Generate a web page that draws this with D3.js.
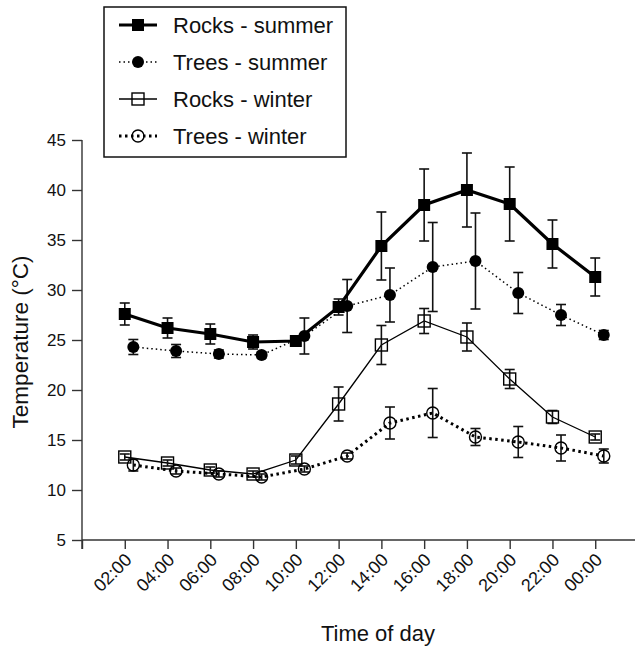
<!DOCTYPE html>
<html>
<head>
<meta charset="utf-8">
<title>Temperature by time of day</title>
<style>
  body { margin: 0; background: #fff; }
  text { font-family: "Liberation Sans", Arial, Helvetica, sans-serif; fill: #111; }
</style>
</head>
<body>
<svg width="635" height="649"></svg>
<script src="https://cdnjs.cloudflare.com/ajax/libs/d3/7.8.5/d3.min.js"></script>
<script>
// hours of day (24 = midnight) and their labels
var hours = [2, 4, 6, 8, 10, 12, 14, 16, 18, 20, 22, 24];
var hourLabels = ["02:00", "04:00", "06:00", "08:00", "10:00", "12:00", "14:00", "16:00", "18:00", "20:00", "22:00", "00:00"];
var yTicks = [5, 10, 15, 20, 25, 30, 35, 40, 45];

// means and error half-widths (°C)
var rocksSummer    = [27.6, 26.2, 25.6, 24.8, 24.9, 28.3, 34.4, 38.5, 40.0, 38.6, 34.6, 31.3];
var rocksSummerErr = [1.1, 1.0, 1.0, 0.7, 0.3, 0.8, 3.4, 3.6, 3.7, 3.7, 2.4, 1.9];
var treesSummer    = [24.3, 23.9, 23.6, 23.5, 25.4, 28.4, 29.5, 32.3, 32.9, 29.7, 27.5, 25.5];
var treesSummerErr = [0.75, 0.65, 0.4, 0.3, 1.8, 2.65, 2.7, 4.45, 4.8, 2.05, 1.05, 0.45];
var rocksWinter    = [13.3, 12.7, 12.0, 11.6, 13.0, 18.6, 24.5, 26.9, 25.3, 21.1, 17.3, 15.3];
var rocksWinterErr = [0.3, 0.3, 0.3, 0.3, 0.4, 1.7, 1.95, 1.25, 1.4, 0.95, 0.65, 0.3];
var treesWinter    = [12.5, 11.9, 11.6, 11.3, 12.1, 13.4, 16.7, 17.7, 15.3, 14.8, 14.2, 13.4];
var treesWinterErr = [0.6, 0.3, 0.3, 0.3, 0.3, 0.3, 1.6, 2.45, 0.85, 1.55, 1.3, 0.7];

var series = [
  {name: "Rocks - winter", vals: rocksWinter, err: rocksWinterErr, shift: 0, shape: "square", filled: false, width: 1.3, dash: null},
  {name: "Trees - winter", vals: treesWinter, err: treesWinterErr, shift: 0.4, shape: "circle", filled: false, width: 3, dash: "2.5,3.5"},
  {name: "Trees - summer", vals: treesSummer, err: treesSummerErr, shift: 0.4, shape: "circle", filled: true, width: 1.5, dash: "1.5,3"},
  {name: "Rocks - summer", vals: rocksSummer, err: rocksSummerErr, shift: 0, shape: "square", filled: true, width: 3.2, dash: null}
];
var legendOrder = ["Rocks - summer", "Trees - summer", "Rocks - winter", "Trees - winter"];

var svg = d3.select("svg");
var x = d3.scaleLinear().domain([0, 26]).range([82, 638]);
var y = d3.scaleLinear().domain([5, 45]).range([540, 140]);

// axes
var xAxis = svg.append("g").attr("transform", "translate(0,540)")
  .call(d3.axisBottom(x).tickValues([0].concat(hours)).tickSize(9).tickFormat(""));
xAxis.select(".domain").attr("d", "M82,0H635");
xAxis.selectAll("line, path").attr("stroke", "#333").attr("stroke-width", 1.4);

svg.append("g").selectAll("text").data(hours).join("text")
  .attr("transform", function(d) { return "translate(" + (x(d) + 8) + ",561) rotate(-45)"; })
  .attr("text-anchor", "end")
  .attr("font-size", 18)
  .text(function(d, i) { return hourLabels[i]; });

var yAxis = svg.append("g").attr("transform", "translate(82,0)")
  .call(d3.axisLeft(y).tickValues(yTicks).tickSize(10).tickPadding(6).tickSizeOuter(0));
yAxis.select(".domain").attr("d", "M0,140V549");
yAxis.selectAll("line, path").attr("stroke", "#333").attr("stroke-width", 1.4);
yAxis.selectAll("text").attr("font-size", 17).attr("font-family", null).attr("fill", "#111");

svg.append("text")
  .attr("transform", "translate(28,342) rotate(-90)")
  .attr("text-anchor", "middle")
  .attr("font-size", 22.5)
  .text("Temperature (°C)");

svg.append("text")
  .attr("x", 378).attr("y", 641)
  .attr("text-anchor", "middle")
  .attr("font-size", 22)
  .text("Time of day");

function drawMarker(g, s, size) {
  if (s.shape === "square") {
    g.append("rect")
      .attr("x", -size / 2).attr("y", -size / 2)
      .attr("width", size).attr("height", size)
      .attr("fill", s.filled ? "#000" : "none")
      .attr("stroke", "#000").attr("stroke-width", s.filled ? 0 : 1.4);
  } else {
    g.append("circle")
      .attr("r", size / 2)
      .attr("fill", s.filled ? "#000" : "none")
      .attr("stroke", "#000").attr("stroke-width", s.filled ? 0 : 1.4);
  }
}

var line = d3.line();

series.forEach(function(s) {
  var pts = hours.map(function(h, i) { return [x(h + s.shift), y(s.vals[i])]; });
  var g = svg.append("g");
  g.append("path")
    .attr("d", line(pts))
    .attr("fill", "none")
    .attr("stroke", "#000")
    .attr("stroke-width", s.width)
    .attr("stroke-dasharray", s.dash);

  // error bars
  hours.forEach(function(h, i) {
    var cx = x(h + s.shift), y0 = y(s.vals[i] - s.err[i]), y1 = y(s.vals[i] + s.err[i]);
    var eb = g.append("g").attr("stroke", "#111").attr("stroke-width", 1.6);
    eb.append("line").attr("x1", cx).attr("x2", cx).attr("y1", y0).attr("y2", y1);
    eb.append("line").attr("x1", cx - 5).attr("x2", cx + 5).attr("y1", y0).attr("y2", y0);
    eb.append("line").attr("x1", cx - 5).attr("x2", cx + 5).attr("y1", y1).attr("y2", y1);
  });

  pts.forEach(function(p) {
    drawMarker(g.append("g").attr("transform", "translate(" + p[0] + "," + p[1] + ")"), s, 12);
  });
});

// legend
var leg = svg.append("g");
leg.append("rect")
  .attr("x", 104).attr("y", 7).attr("width", 242).attr("height", 150)
  .attr("fill", "#fff").attr("stroke", "#111").attr("stroke-width", 1.5);

var rowY = d3.scalePoint().domain(legendOrder).range([25, 136]);
legendOrder.forEach(function(name) {
  var s = series.find(function(d) { return d.name === name; });
  var cy = rowY(name);
  leg.append("line")
    .attr("x1", 119).attr("x2", 157).attr("y1", cy).attr("y2", cy)
    .attr("stroke", "#000").attr("stroke-width", s.width)
    .attr("stroke-dasharray", s.dash);
  drawMarker(leg.append("g").attr("transform", "translate(138," + cy + ")"), s, 12);
  leg.append("text")
    .attr("x", 173).attr("y", cy).attr("dy", "0.36em")
    .attr("font-size", 22)
    .text(name);
});
</script>
</body>
</html>
